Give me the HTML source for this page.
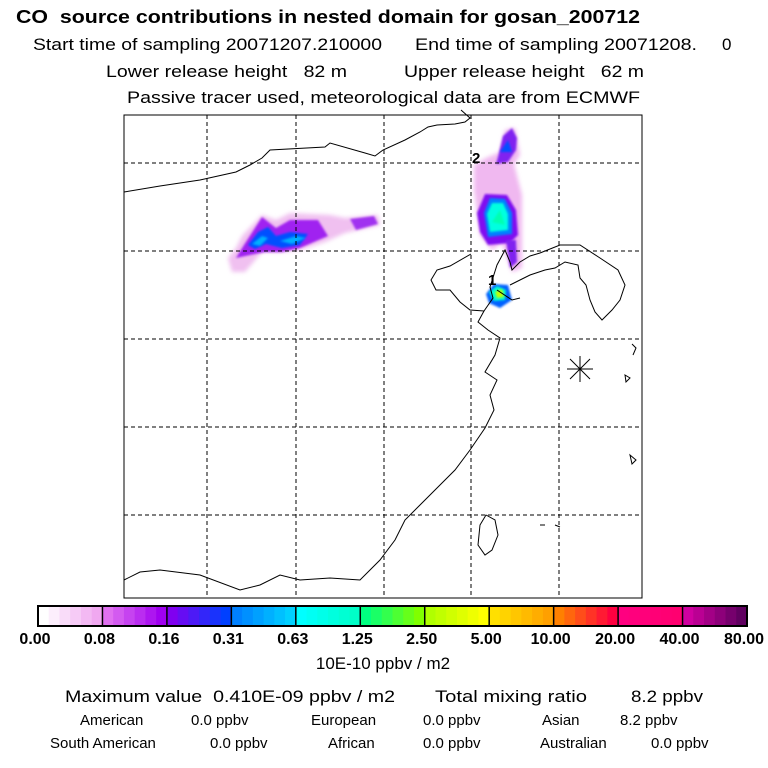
<!DOCTYPE html>
<html><head><meta charset="utf-8"><style>
body{margin:0;background:#fff;width:768px;height:768px;overflow:hidden;font-family:"Liberation Sans",sans-serif}
svg{display:block}
text{white-space:pre}
</style></head><body>
<svg width="768" height="768" viewBox="0 0 768 768" xmlns="http://www.w3.org/2000/svg">
<defs>
<filter id="bl" x="-30%" y="-30%" width="160%" height="160%"><feGaussianBlur stdDeviation="2"/></filter>
<filter id="bl2" x="-30%" y="-30%" width="160%" height="160%"><feGaussianBlur stdDeviation="1"/></filter>
</defs>
<g font-family="Liberation Sans, sans-serif" fill="#000">
<text x="16" y="23" font-size="18" font-weight="bold" textLength="624" lengthAdjust="spacingAndGlyphs">CO  source contributions in nested domain for gosan_200712</text>
<text x="33" y="50" font-size="17" textLength="349" lengthAdjust="spacingAndGlyphs">Start time of sampling 20071207.210000</text>
<text x="415" y="50" font-size="17" textLength="282" lengthAdjust="spacingAndGlyphs">End time of sampling 20071208.</text>
<text x="722" y="50" font-size="17">0</text>
<text x="106" y="77" font-size="17" textLength="241" lengthAdjust="spacingAndGlyphs">Lower release height   82 m</text>
<text x="404" y="77" font-size="17" textLength="240" lengthAdjust="spacingAndGlyphs">Upper release height   62 m</text>
<text x="127" y="103" font-size="17" textLength="513" lengthAdjust="spacingAndGlyphs">Passive tracer used, meteorological data are from ECMWF</text>
</g>
<g id="map">
<rect x="124" y="115" width="518" height="483" fill="#fff" stroke="#000" stroke-width="1"/>
<g id="plumes"></g>
<g id="grid" stroke="#000" stroke-dasharray="4,3" stroke-width="1"></g>
<g fill="none" stroke="#000" stroke-width="1">
<polyline points="124,192 160,186 200,180 236,172 250,165 262,158 270,150 325,147 330,143 365,153 375,156 383,150 405,140 420,132 428,127 437,125 455,124 465,122 470,118 461,110"/>
<polyline points="471,254 450,266 437,270 431,280 436,290 450,290 460,302 470,310 484,311 493,298 490,287 497,265 505,250 510,262 512,270 520,262 530,256 540,253"/>
<polyline points="484,311 478,322 488,330 500,338 495,355 485,372 497,380 490,395 494,410 485,428 470,450 455,470 440,485 420,505 405,520 395,540 380,560 360,580 330,578 300,580 280,575 260,585 240,590 200,575 160,570 140,572 124,580"/>
<polyline points="540,253 560,245 580,245 600,258 618,270 625,285 620,300 612,310 602,320 595,312 590,300 586,285 580,278 578,265 565,262 555,268 545,270 530,275 520,280 510,285"/>
<polyline points="497,290 512,300 520,298"/>
<path d="M486,515 L495,520 L498,535 L492,550 L485,555 L478,545 L480,525 Z"/>
<path d="M632,344 L636,348 L633,355"/>
<path d="M625,375 L630,378 L626,382 Z M630,455 L636,460 L632,464 Z M540,525 L545,525 M555,525 L560,527"/>
</g>
<g stroke="#000" stroke-width="1">
<line x1="567" y1="369" x2="593" y2="369"/><line x1="580" y1="356" x2="580" y2="382"/><line x1="570" y1="359" x2="590" y2="379"/><line x1="590" y1="359" x2="570" y2="379"/>
</g>
<text x="472" y="163" font-size="15" font-weight="bold" font-family="Liberation Sans, sans-serif">2</text>
<text x="488" y="285" font-size="15" font-weight="bold" font-family="Liberation Sans, sans-serif">1</text>
</g>
<g id="cbar"></g>
<g font-family="Liberation Sans, sans-serif" fill="#000">
<text x="383" y="669" font-size="17" text-anchor="middle">10E-10 ppbv / m2</text>
<text x="65" y="702" font-size="17" textLength="330" lengthAdjust="spacingAndGlyphs">Maximum value  0.410E-09 ppbv / m2</text>
<text x="435" y="702" font-size="17" textLength="152" lengthAdjust="spacingAndGlyphs">Total mixing ratio</text>
<text x="631" y="702" font-size="17" textLength="72" lengthAdjust="spacingAndGlyphs">8.2 ppbv</text>
<g font-size="15">
<text x="80" y="725">American</text>
<text x="191" y="725">0.0 ppbv</text>
<text x="311" y="725">European</text>
<text x="423" y="725">0.0 ppbv</text>
<text x="542" y="725">Asian</text>
<text x="620" y="725">8.2 ppbv</text>
<text x="50" y="748">South American</text>
<text x="210" y="748">0.0 ppbv</text>
<text x="328" y="748">African</text>
<text x="423" y="748">0.0 ppbv</text>
<text x="540" y="748">Australian</text>
<text x="651" y="748">0.0 ppbv</text>
</g></g>
</svg>
<script>
const NS='http://www.w3.org/2000/svg';
const cbarLabels=['0.00','0.08','0.16','0.31','0.63','1.25','2.50','5.00','10.00','20.00','40.00','80.00'];
const cbarStart=['#ffffff','#e070f0','#8000f0','#0080ff','#00ffff','#00ff80','#b0ff00','#ffe000','#ff8000','#ff0080','#d000a0'];
const cbarEnd=['#f0a8f0','#a000f0','#0040ff','#00d0ff','#00ffc8','#80ff00','#ffff00','#ffa000','#ff0040','#ff0070','#600060'];
const lonGrid=[207,296,384,471,559];
const latGrid=[163,251,339,427,515];
function mk(t,a,p){const e=document.createElementNS(NS,t);for(const k in a)e.setAttribute(k,a[k]);p.appendChild(e);return e;}
const grid=document.getElementById('grid');
lonGrid.forEach(x=>{const l=mk('line',{x1:x,y1:115,x2:x,y2:598},grid);

});
latGrid.forEach(y=>{const l=mk('line',{x1:124,y1:y,x2:642,y2:y},grid);

});
const cb=document.getElementById('cbar');
const x0=38,x1=747,y0=606,h=20,n=cbarStart.length,w=(x1-x0)/n;
function hex(c){return [1,3,5].map(i=>parseInt(c.substr(i,2),16));}
for(let i=0;i<n;i++){const a=hex(cbarStart[i]),b=hex(cbarEnd[i]);
 for(let j=0;j<6;j++){const t=j/5;const c=a.map((v,k)=>Math.round(v+(b[k]-v)*t));
  const r=mk('rect',{x:x0+i*w+j*w/6,y:y0,width:w/6+0.5,height:h,fill:`rgb(${c})`},cb);
  
  }
 const s=mk('line',{x1:x0+i*w,y1:y0,x2:x0+i*w,y2:y0+h,stroke:'#000','stroke-width':1.5},cb);
 
 }
const fr=mk('rect',{x:x0,y:y0,width:x1-x0,height:h,fill:'none',stroke:'#000','stroke-width':2},cb);


cbarLabels.forEach((t,i)=>{const tx=mk('text',{x:x0+i*w-3,y:644,'font-size':16,'font-weight':'bold','text-anchor':'middle','font-family':'Liberation Sans, sans-serif'},cb);
 tx.textContent=t;
 
 });
const pl=document.getElementById('plumes');
function blob(pts,fill,f){const p=mk('polygon',{points:pts,fill:fill,filter:f?'url(#'+f+')':''},pl);
 
 }
blob('228,258 236,248 242,236 262,215 276,220 290,213 330,215 345,218 378,215 380,225 345,233 325,242 300,250 280,252 262,252 245,272 232,272','#f0c0f0','bl');
blob('236,258 244,245 262,217 276,228 290,220 318,220 328,236 300,248 282,252 265,252 250,255','#a020f0','bl2');
blob('350,219 374,216 378,224 356,230','#a030f0','bl2');
blob('248,245 258,232 268,227 276,236 290,232 308,234 300,245 282,248 266,244 255,249','#0050ff','bl2');
blob('252,244 262,236 268,238 260,246','#00b0ff','bl2');
blob('280,241 296,236 306,238 292,244','#00b0ff','bl2');
blob('474,165 486,158 500,152 505,130 515,128 520,155 514,164 522,195 522,268 512,272 502,243 492,250 480,235 474,190','#f0b8f0','bl');
blob('498,157 503,136 512,128 517,138 516,150 508,162 496,164','#8020f0','bl2');
blob('500,152 508,140 512,152','#0050ff','bl2');
blob('477,213 485,194 507,195 516,210 518,235 510,243 488,245 480,232','#8010f0','bl2');
blob('484,213 490,198 505,199 512,213 512,234 488,237','#0080ff','bl2');
blob('487,214 492,203 503,203 508,214 508,230 490,232','#00ffe0','bl2');
blob('492,222 500,210 505,225','#00ffb0','bl2');
blob('506,240 516,240 517,262 510,268','#8020f0','bl2');
blob('486,294 494,284 508,285 512,300 500,308 489,303','#0060ff','bl2');
blob('489,292 497,286 506,290 505,300 494,301','#00ffd0','bl2');
blob('495,292 502,289 504,297 497,298','#c0ff00','bl2');
</script>
</body></html>
